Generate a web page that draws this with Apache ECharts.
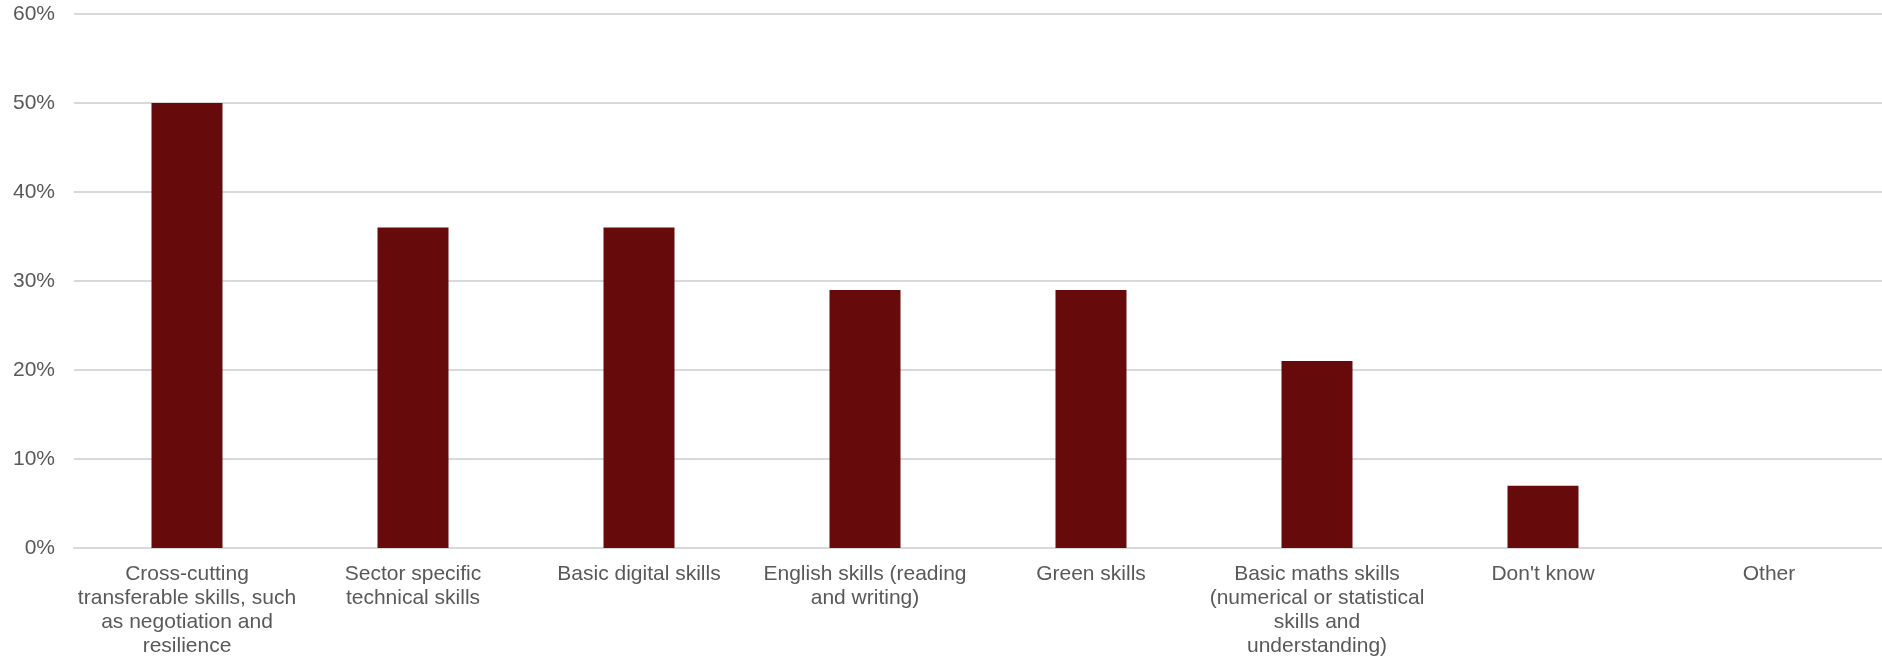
<!DOCTYPE html>
<html>
<head>
<meta charset="utf-8">
<script src="https://cdn.jsdelivr.net/npm/echarts@6/dist/echarts.min.js"></script>
<style>
html,body{margin:0;padding:0;background:#fff;}
#chart{width:1882px;height:658px;}
</style>
</head>
<body>
<div id="chart"></div>
<script>
const categories = [
  "Cross-cutting\ntransferable skills, such\nas negotiation and\nresilience",
  "Sector specific\ntechnical skills",
  "Basic digital skills",
  "English skills (reading\nand writing)",
  "Green skills",
  "Basic maths skills\n(numerical or statistical\nskills and\nunderstanding)",
  "Don't know",
  "Other"
];
const values = [50, 36, 36, 29, 29, 21, 7, 0];
const yTicks = { min: 0, max: 60, interval: 10 };

const chart = echarts.init(document.getElementById('chart'), null, { renderer: 'canvas' });
chart.setOption({
  animation: false,
  backgroundColor: '#ffffff',
  grid: { left: 74, right: 0, top: 14, bottom: 110, containLabel: false },
  xAxis: {
    type: 'category',
    data: categories,
    axisLine: { show: true, lineStyle: { color: '#d9d9d9', width: 2 } },
    axisTick: { show: false },
    axisLabel: {
      interval: 0,
      color: '#595959',
      fontFamily: 'Liberation Sans, Arial, sans-serif',
      fontSize: 21,
      lineHeight: 24,
      margin: 14,
      align: 'center'
    }
  },
  yAxis: {
    type: 'value',
    min: yTicks.min,
    max: yTicks.max,
    interval: yTicks.interval,
    axisLine: { show: false },
    axisTick: { show: false },
    splitLine: { show: true, lineStyle: { color: '#d9d9d9', width: 2 } },
    axisLabel: {
      formatter: '{value}%',
      color: '#595959',
      fontFamily: 'Liberation Sans, Arial, sans-serif',
      fontSize: 21,
      margin: 19
    }
  },
  series: [{
    type: 'bar',
    data: values,
    barWidth: 71,
    itemStyle: { color: '#660a0b' }
  }]
});
</script>
</body>
</html>
